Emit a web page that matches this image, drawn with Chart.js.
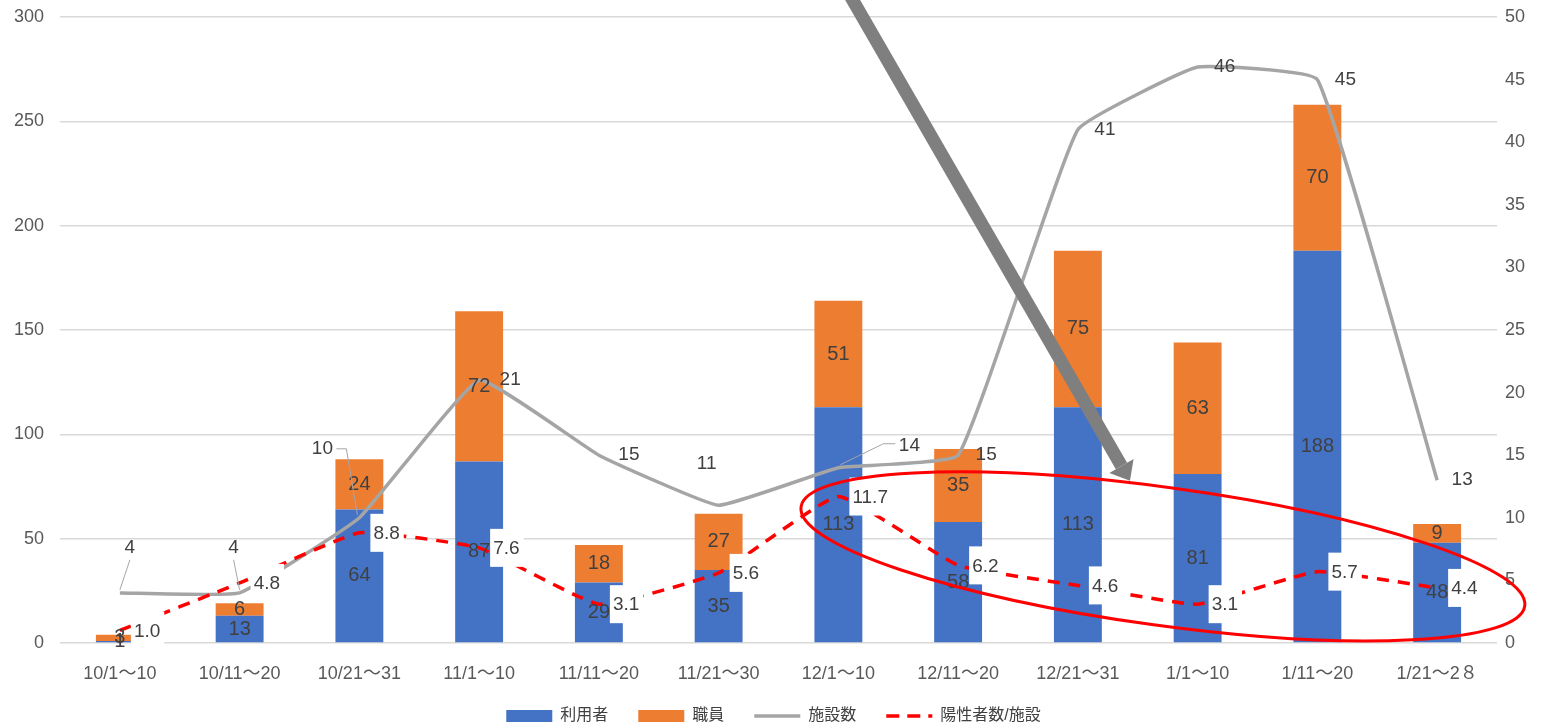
<!DOCTYPE html>
<html>
<head>
<meta charset="utf-8">
<script src="https://cdn.jsdelivr.net/npm/chart.js@4"></script>
<style>
  html, body { margin: 0; padding: 0; background: #fff; overflow: hidden; }
  #wrap { width: 1547px; height: 726px; }
</style>
</head>
<body>
<div id="wrap"><canvas id="myChart" width="1547" height="726"></canvas></div>
<script>
// data
const periods = ['10/1～10', '10/11～20', '10/21～31', '11/1～10', '11/11～20', '11/21～30',
                 '12/1～10', '12/11～20', '12/21～31', '1/1～10', '1/11～20', '1/21～2８'];
const users = [1, 13, 64, 87, 29, 35, 113, 58, 113, 81, 188, 48];       // 利用者
const staff = [3, 6, 24, 72, 18, 27, 51, 35, 75, 63, 70, 9];            // 職員
const facilities = [4, 4, 10, 21, 15, 11, 14, 15, 41, 46, 45, 13];       // 施設数
const perFacility = [1.0, 4.8, 8.8, 7.6, 3.1, 5.6, 11.7, 6.2, 4.6, 3.1, 5.7, 4.4]; // 陽性者数/施設
const leftTicks = [0, 50, 100, 150, 200, 250, 300];
const rightTicks = [0, 5, 10, 15, 20, 25, 30, 35, 40, 45, 50];

const FONT = "'Liberation Sans', 'Noto Sans CJK JP', sans-serif";
const TEXT = '#404040';

// where the 施設数 labels sit relative to their point (label offsets, leader lines)
const facilityLabelPos = [
  { dx: 10, dy: -45, lead: [0, 12, 0] },
  { dx: -6, dy: -45, lead: [0, 12, 0] },
  { dx: -37, dy: -69, lead: [14, 0, 10] },
  { dx: 31, dy: 0 },
  { dx: 30, dy: 0 },
  { dx: -12, dy: -42 },
  { dx: 71, dy: -22, lead: [-14, -2, -12] },
  { dx: 28, dy: 0 },
  { dx: 27, dy: 0 },
  { dx: 27, dy: 0 },
  { dx: 28, dy: 0 },
  { dx: 25, dy: 0 }
];

const labelPlugin = {
  id: 'valueLabels',
  afterDatasetsDraw(chart) {
    const ctx = chart.ctx;
    ctx.save();
    ctx.textBaseline = 'middle';

    // stacked bar labels, centred in each segment
    ctx.font = '20px ' + FONT;
    ctx.fillStyle = TEXT;
    ctx.textAlign = 'center';
    [0, 1].forEach(d => {
      const vals = chart.data.datasets[d].data;
      chart.getDatasetMeta(d).data.forEach((bar, i) => {
        ctx.fillText(String(vals[i]), bar.x, (bar.y + bar.base) / 2);
      });
    });

    // 施設数 labels
    ctx.font = '19px ' + FONT;
    chart.getDatasetMeta(2).data.forEach((pt, i) => {
      const p = facilityLabelPos[i];
      const lx = pt.x + p.dx, ly = pt.y + p.dy;
      if (p.lead) {
        const sx = lx + p.lead[0], sy = ly + p.lead[1];
        ctx.strokeStyle = '#a6a6a6';
        ctx.lineWidth = 1;
        ctx.beginPath();
        ctx.moveTo(sx, sy);
        ctx.lineTo(sx + p.lead[2], sy);
        ctx.lineTo(pt.x + (p.lead[2] ? Math.sign(p.lead[2]) * -2 : 0), pt.y - 3);
        ctx.stroke();
      }
      ctx.fillStyle = TEXT;
      ctx.fillText(String(facilities[i]), lx, ly);
    });

    // 陽性者数/施設 labels on white boxes, right of the point
    ctx.textAlign = 'left';
    chart.getDatasetMeta(3).data.forEach((pt, i) => {
      const txt = perFacility[i].toFixed(1);
      const w = ctx.measureText(txt).width;
      ctx.fillStyle = '#ffffff';
      ctx.fillRect(pt.x + 11, pt.y - 19, w + 7, 38);
      ctx.fillStyle = TEXT;
      ctx.fillText(txt, pt.x + 14, pt.y + 1);
    });
    ctx.restore();
  }
};

// hand-drawn marks on the picture: thick grey arrow and red ellipse
const markPlugin = {
  id: 'marks',
  afterDraw(chart) {
    const ctx = chart.ctx;
    const xs = chart.scales.x, ys = chart.scales.y;
    const catW = xs.getPixelForValue(1) - xs.getPixelForValue(0);
    ctx.save();

    // arrow
    const x0 = xs.getPixelForValue(6.02), y0 = ys.getPixelForValue(318);
    const x1 = xs.getPixelForValue(8.435), y1 = ys.getPixelForValue(77.8);
    const ang = Math.atan2(y1 - y0, x1 - x0);
    const headLen = 17, headW = 14;
    const bx = x1 - Math.cos(ang) * headLen, by = y1 - Math.sin(ang) * headLen;
    ctx.strokeStyle = '#7f7f7f';
    ctx.fillStyle = '#7f7f7f';
    ctx.lineWidth = 13;
    ctx.beginPath();
    ctx.moveTo(x0, y0);
    ctx.lineTo(bx, by);
    ctx.stroke();
    ctx.beginPath();
    ctx.moveTo(x1, y1);
    ctx.lineTo(bx + Math.sin(ang) * headW, by - Math.cos(ang) * headW);
    ctx.lineTo(bx - Math.sin(ang) * headW, by + Math.cos(ang) * headW);
    ctx.closePath();
    ctx.fill();

    // ellipse
    const cx = xs.getPixelForValue(8.71), cy = ys.getPixelForValue(41.5);
    const rx = 3.05 * catW;
    const ry = ys.getPixelForValue(0) - ys.getPixelForValue(33.1);
    ctx.strokeStyle = '#ff0000';
    ctx.lineWidth = 3;
    ctx.beginPath();
    ctx.ellipse(cx, cy, rx, ry, 7.8 * Math.PI / 180, 0, Math.PI * 2);
    ctx.stroke();
    ctx.restore();
  }
};

// legend: keep the wide item spacing but a short box, sitting at the very bottom
// (the legend clips to its own box, so only its top edge is moved up)
const legendFix = {
  id: 'legendFix',
  beforeLayout(chart) {
    const lg = chart.legend;
    if (lg && !lg._patched) {
      const fit = lg.fit.bind(lg);
      lg.fit = function() { fit(); this.height = 38; };
      lg._patched = true;
    }
  },
  afterLayout(chart) {
    if (chart.legend) {
      chart.legend.top -= 10;
      chart.legend.height = chart.legend.bottom - chart.legend.top;
    }
  }
};

// vertical axes: tick padding only moves labels sideways, not the plot top
function trimPad(s) {
  s.paddingTop = 10;
  s.paddingBottom = 10;
}

const ctx = document.getElementById('myChart').getContext('2d');
const myChart = new Chart(ctx, {
  type: 'bar',
  data: {
    labels: periods,
    datasets: [
      {
        label: '利用者',
        data: users,
        backgroundColor: '#4472C4',
        stack: 's',
        order: 3,
        yAxisID: 'y',
        barPercentage: 0.4,
        categoryPercentage: 1,
        pointStyle: 'rect'
      },
      {
        label: '職員',
        data: staff,
        backgroundColor: '#ED7D31',
        stack: 's',
        order: 4,
        yAxisID: 'y',
        barPercentage: 0.4,
        categoryPercentage: 1,
        pointStyle: 'rect'
      },
      {
        type: 'line',
        label: '施設数',
        data: facilities,
        borderColor: '#A5A5A5',
        backgroundColor: '#A5A5A5',
        borderWidth: 3.5,
        tension: 0.1,
        pointRadius: 0,
        pointStyle: 'line',
        order: 2,
        yAxisID: 'y1'
      },
      {
        type: 'line',
        label: '陽性者数/施設',
        data: perFacility,
        borderColor: '#FF0000',
        backgroundColor: '#FF0000',
        borderWidth: 3.5,
        borderDash: [12, 9],
        tension: 0.12,
        pointRadius: 0,
        pointStyle: 'line',
        order: 1,
        yAxisID: 'y1'
      }
    ]
  },
  options: {
    responsive: false,
    animation: false,
    layout: { padding: { top: 17, left: 0, right: 0, bottom: 0 } },
    plugins: {
      tooltip: { enabled: false },
      legend: {
        position: 'bottom',
        labels: {
          usePointStyle: true,
          pointStyleWidth: 46,
          boxHeight: 12,
          padding: 30,
          color: '#404040',
          font: { family: FONT, size: 16 },
          sort: (a, b) => a.datasetIndex - b.datasetIndex,
          generateLabels: chart => {
            const items = Chart.defaults.plugins.legend.labels.generateLabels(chart);
            items.forEach(it => {
              const ds = chart.data.datasets[it.datasetIndex];
              if (ds.borderDash) it.lineDash = [13, 8];
            });
            return items;
          }
        }
      }
    },
    scales: {
      x: {
        stacked: true,
        grid: { display: false },
        border: { display: false },
        ticks: {
          color: '#595959',
          font: { family: FONT, size: 18 },
          padding: 12,
          maxRotation: 0,
          autoSkip: false
        },
        afterFit: s => { s.height = 45; }
      },
      y: {
        position: 'left',
        stacked: true,
        min: 0,
        max: 300,
        afterBuildTicks: s => { s.ticks = leftTicks.map(v => ({ value: v })); },
        grid: { color: '#d9d9d9', lineWidth: 1.5, drawTicks: false },
        border: { display: false },
        ticks: {
          color: '#595959',
          font: { family: FONT, size: 18 },
          padding: 16
        },
        afterFit: s => { s.width = 60; trimPad(s); }
      },
      y1: {
        position: 'right',
        min: 0,
        max: 50,
        afterBuildTicks: s => { s.ticks = rightTicks.map(v => ({ value: v })); },
        grid: { display: false, drawTicks: false },
        border: { display: false },
        ticks: {
          color: '#595959',
          font: { family: FONT, size: 18 },
          padding: 8
        },
        afterFit: s => { s.width = 50; trimPad(s); }
      }
    }
  },
  plugins: [labelPlugin, markPlugin, legendFix]
});
</script>
</body>
</html>
